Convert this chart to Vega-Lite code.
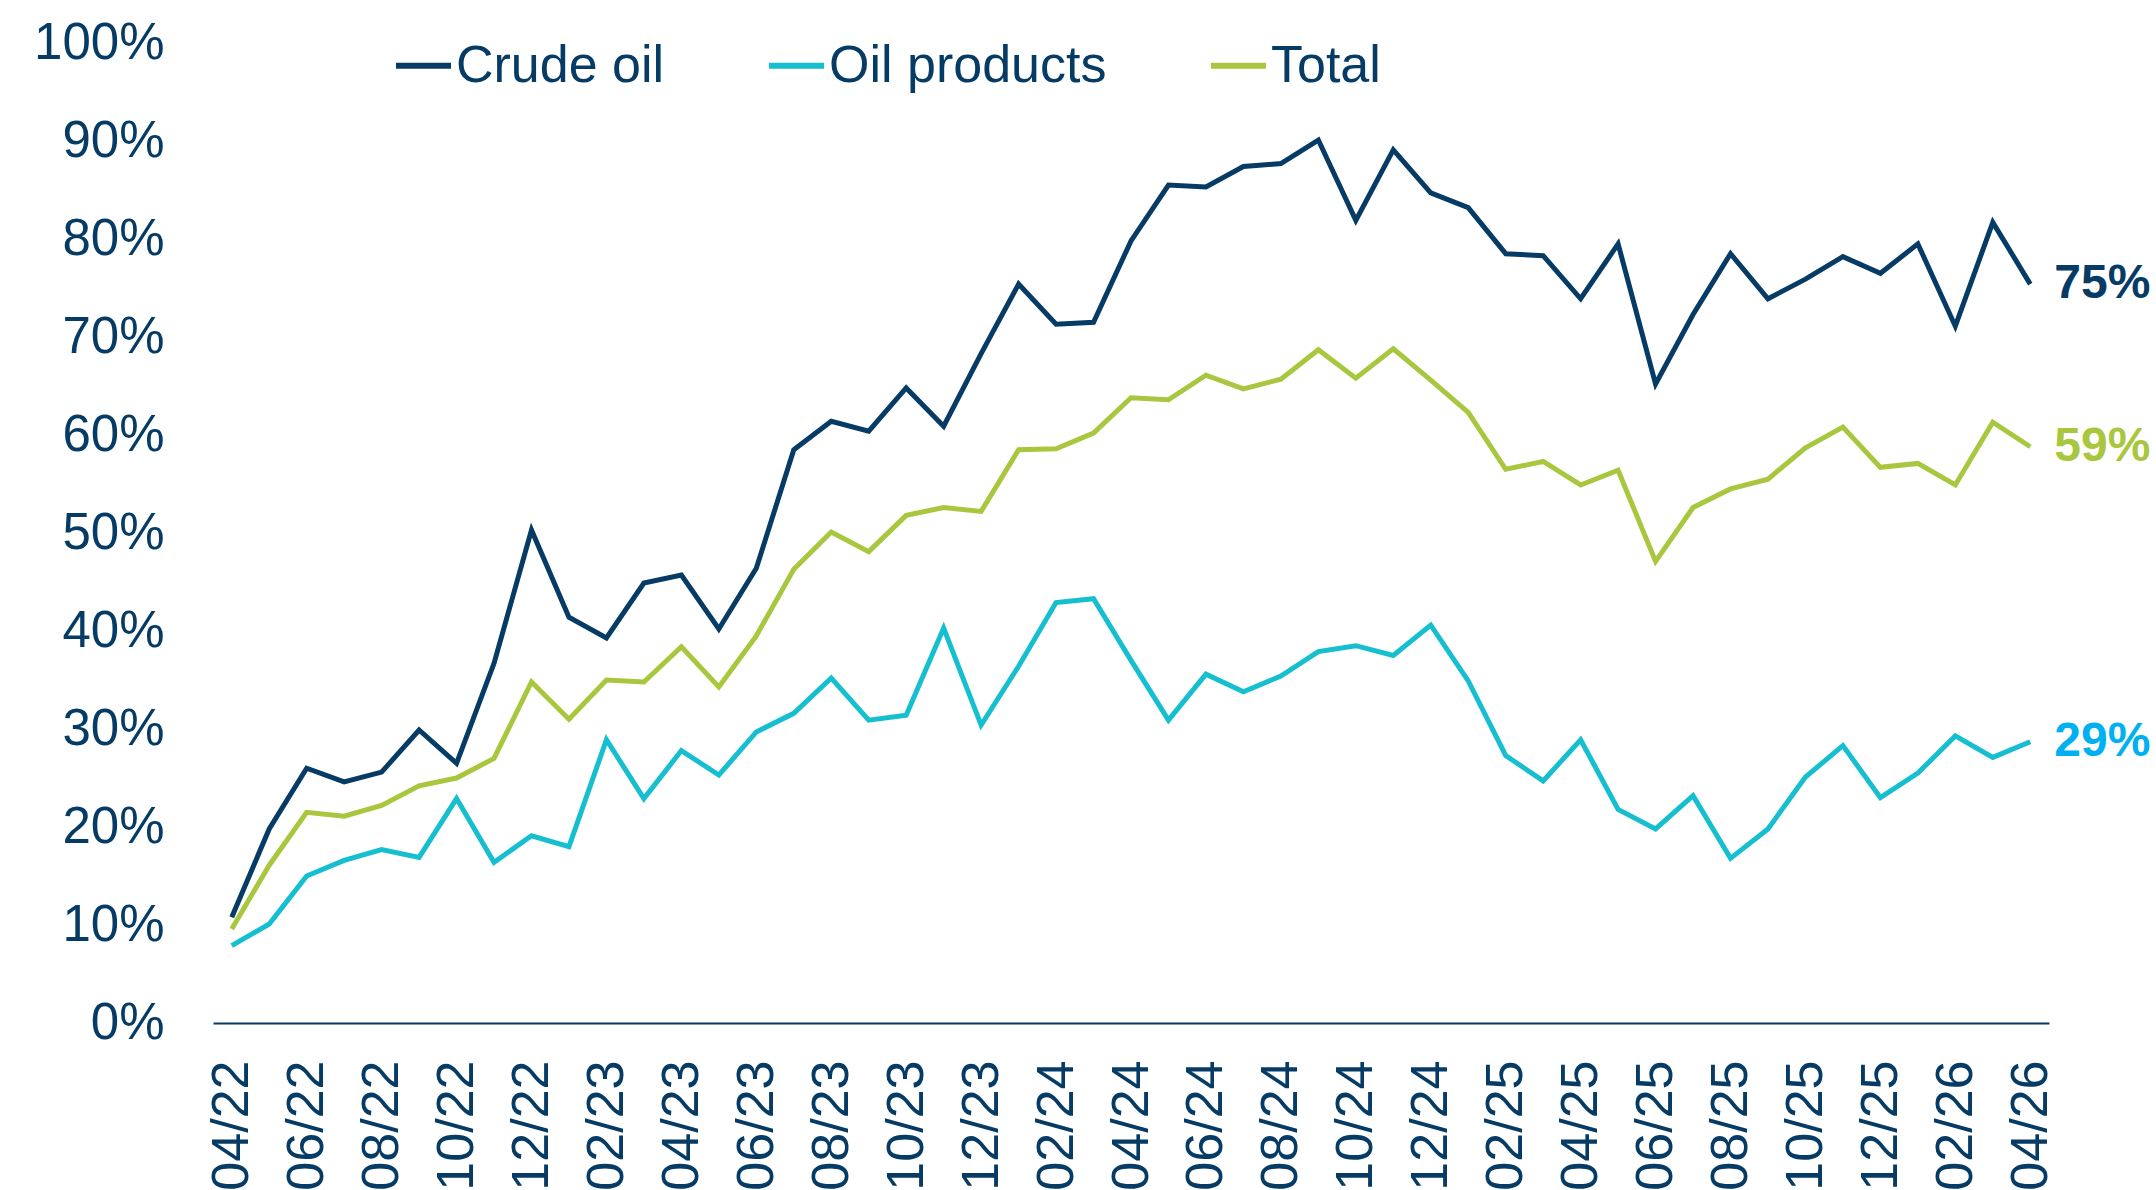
{
  "$schema": "https://vega.github.io/schema/vega-lite/v6.json",
  "width": 1836,
  "height": 980,
  "autosize": {"type": "none"},
  "padding": {"left": 213, "top": 43, "right": 107, "bottom": 167},
  "background": "white",
  "config": {"view": {"stroke": null}, "font": "Liberation Sans"},
  "data": {"values": [
    {"month":"04/22","series":"Crude oil","value":0.108},{"month":"04/22","series":"Oil products","value":0.079},{"month":"04/22","series":"Total","value":0.096},
    {"month":"05/22","series":"Crude oil","value":0.198},{"month":"05/22","series":"Oil products","value":0.101},{"month":"05/22","series":"Total","value":0.161},
    {"month":"06/22","series":"Crude oil","value":0.260},{"month":"06/22","series":"Oil products","value":0.150},{"month":"06/22","series":"Total","value":0.215},
    {"month":"07/22","series":"Crude oil","value":0.246},{"month":"07/22","series":"Oil products","value":0.166},{"month":"07/22","series":"Total","value":0.211},
    {"month":"08/22","series":"Crude oil","value":0.256},{"month":"08/22","series":"Oil products","value":0.177},{"month":"08/22","series":"Total","value":0.222},
    {"month":"09/22","series":"Crude oil","value":0.299},{"month":"09/22","series":"Oil products","value":0.169},{"month":"09/22","series":"Total","value":0.242},
    {"month":"10/22","series":"Crude oil","value":0.265},{"month":"10/22","series":"Oil products","value":0.229},{"month":"10/22","series":"Total","value":0.250},
    {"month":"11/22","series":"Crude oil","value":0.367},{"month":"11/22","series":"Oil products","value":0.164},{"month":"11/22","series":"Total","value":0.270},
    {"month":"12/22","series":"Crude oil","value":0.503},{"month":"12/22","series":"Oil products","value":0.191},{"month":"12/22","series":"Total","value":0.348},
    {"month":"01/23","series":"Crude oil","value":0.414},{"month":"01/23","series":"Oil products","value":0.180},{"month":"01/23","series":"Total","value":0.310},
    {"month":"02/23","series":"Crude oil","value":0.393},{"month":"02/23","series":"Oil products","value":0.289},{"month":"02/23","series":"Total","value":0.350},
    {"month":"03/23","series":"Crude oil","value":0.449},{"month":"03/23","series":"Oil products","value":0.229},{"month":"03/23","series":"Total","value":0.348},
    {"month":"04/23","series":"Crude oil","value":0.457},{"month":"04/23","series":"Oil products","value":0.278},{"month":"04/23","series":"Total","value":0.384},
    {"month":"05/23","series":"Crude oil","value":0.402},{"month":"05/23","series":"Oil products","value":0.253},{"month":"05/23","series":"Total","value":0.343},
    {"month":"06/23","series":"Crude oil","value":0.464},{"month":"06/23","series":"Oil products","value":0.297},{"month":"06/23","series":"Total","value":0.395},
    {"month":"07/23","series":"Crude oil","value":0.585},{"month":"07/23","series":"Oil products","value":0.316},{"month":"07/23","series":"Total","value":0.463},
    {"month":"08/23","series":"Crude oil","value":0.614},{"month":"08/23","series":"Oil products","value":0.352},{"month":"08/23","series":"Total","value":0.501},
    {"month":"09/23","series":"Crude oil","value":0.604},{"month":"09/23","series":"Oil products","value":0.309},{"month":"09/23","series":"Total","value":0.481},
    {"month":"10/23","series":"Crude oil","value":0.648},{"month":"10/23","series":"Oil products","value":0.314},{"month":"10/23","series":"Total","value":0.518},
    {"month":"11/23","series":"Crude oil","value":0.609},{"month":"11/23","series":"Oil products","value":0.403},{"month":"11/23","series":"Total","value":0.526},
    {"month":"12/23","series":"Crude oil","value":0.683},{"month":"12/23","series":"Oil products","value":0.304},{"month":"12/23","series":"Total","value":0.522},
    {"month":"01/24","series":"Crude oil","value":0.754},{"month":"01/24","series":"Oil products","value":0.364},{"month":"01/24","series":"Total","value":0.585},
    {"month":"02/24","series":"Crude oil","value":0.713},{"month":"02/24","series":"Oil products","value":0.429},{"month":"02/24","series":"Total","value":0.586},
    {"month":"03/24","series":"Crude oil","value":0.715},{"month":"03/24","series":"Oil products","value":0.433},{"month":"03/24","series":"Total","value":0.602},
    {"month":"04/24","series":"Crude oil","value":0.798},{"month":"04/24","series":"Oil products","value":0.370},{"month":"04/24","series":"Total","value":0.638},
    {"month":"05/24","series":"Crude oil","value":0.855},{"month":"05/24","series":"Oil products","value":0.309},{"month":"05/24","series":"Total","value":0.636},
    {"month":"06/24","series":"Crude oil","value":0.853},{"month":"06/24","series":"Oil products","value":0.356},{"month":"06/24","series":"Total","value":0.661},
    {"month":"07/24","series":"Crude oil","value":0.874},{"month":"07/24","series":"Oil products","value":0.338},{"month":"07/24","series":"Total","value":0.647},
    {"month":"08/24","series":"Crude oil","value":0.877},{"month":"08/24","series":"Oil products","value":0.354},{"month":"08/24","series":"Total","value":0.657},
    {"month":"09/24","series":"Crude oil","value":0.901},{"month":"09/24","series":"Oil products","value":0.379},{"month":"09/24","series":"Total","value":0.687},
    {"month":"10/24","series":"Crude oil","value":0.819},{"month":"10/24","series":"Oil products","value":0.385},{"month":"10/24","series":"Total","value":0.658},
    {"month":"11/24","series":"Crude oil","value":0.891},{"month":"11/24","series":"Oil products","value":0.375},{"month":"11/24","series":"Total","value":0.688},
    {"month":"12/24","series":"Crude oil","value":0.847},{"month":"12/24","series":"Oil products","value":0.406},{"month":"12/24","series":"Total","value":0.656},
    {"month":"01/25","series":"Crude oil","value":0.832},{"month":"01/25","series":"Oil products","value":0.349},{"month":"01/25","series":"Total","value":0.623},
    {"month":"02/25","series":"Crude oil","value":0.785},{"month":"02/25","series":"Oil products","value":0.273},{"month":"02/25","series":"Total","value":0.565},
    {"month":"03/25","series":"Crude oil","value":0.783},{"month":"03/25","series":"Oil products","value":0.247},{"month":"03/25","series":"Total","value":0.573},
    {"month":"04/25","series":"Crude oil","value":0.739},{"month":"04/25","series":"Oil products","value":0.289},{"month":"04/25","series":"Total","value":0.549},
    {"month":"05/25","series":"Crude oil","value":0.795},{"month":"05/25","series":"Oil products","value":0.218},{"month":"05/25","series":"Total","value":0.564},
    {"month":"06/25","series":"Crude oil","value":0.652},{"month":"06/25","series":"Oil products","value":0.198},{"month":"06/25","series":"Total","value":0.471},
    {"month":"07/25","series":"Crude oil","value":0.723},{"month":"07/25","series":"Oil products","value":0.232},{"month":"07/25","series":"Total","value":0.526},
    {"month":"08/25","series":"Crude oil","value":0.785},{"month":"08/25","series":"Oil products","value":0.168},{"month":"08/25","series":"Total","value":0.545},
    {"month":"09/25","series":"Crude oil","value":0.739},{"month":"09/25","series":"Oil products","value":0.198},{"month":"09/25","series":"Total","value":0.555},
    {"month":"10/25","series":"Crude oil","value":0.759},{"month":"10/25","series":"Oil products","value":0.251},{"month":"10/25","series":"Total","value":0.587},
    {"month":"11/25","series":"Crude oil","value":0.782},{"month":"11/25","series":"Oil products","value":0.283},{"month":"11/25","series":"Total","value":0.608},
    {"month":"12/25","series":"Crude oil","value":0.765},{"month":"12/25","series":"Oil products","value":0.230},{"month":"12/25","series":"Total","value":0.567},
    {"month":"01/26","series":"Crude oil","value":0.795},{"month":"01/26","series":"Oil products","value":0.255},{"month":"01/26","series":"Total","value":0.571},
    {"month":"02/26","series":"Crude oil","value":0.711},{"month":"02/26","series":"Oil products","value":0.293},{"month":"02/26","series":"Total","value":0.549},
    {"month":"03/26","series":"Crude oil","value":0.817},{"month":"03/26","series":"Oil products","value":0.271},{"month":"03/26","series":"Total","value":0.613},
    {"month":"04/26","series":"Crude oil","value":0.754},{"month":"04/26","series":"Oil products","value":0.287},{"month":"04/26","series":"Total","value":0.588}
  ]},
  "layer": [
    {
      "mark": {"type": "line", "strokeWidth": 5},
      "encoding": {
        "x": {
          "field": "month", "type": "ordinal", "sort": null,
          "scale": {"type": "point", "padding": 0.5},
          "axis": {
            "values": ["04/22","06/22","08/22","10/22","12/22","02/23","04/23","06/23","08/23","10/23","12/23","02/24","04/24","06/24","08/24","10/24","12/24","02/25","04/25","06/25","08/25","10/25","12/25","02/26","04/26"],
            "title": null, "labelAngle": -90, "labelAlign": "right", "labelBaseline": "middle",
            "labelFontSize": 52, "labelColor": "#053b64", "labelFont": "Liberation Sans",
            "ticks": false, "tickSize": 0, "labelPadding": 37, "labelOverlap": false,
            "domainColor": "#053b64", "domainWidth": 2, "grid": false
          }
        },
        "y": {
          "field": "value", "type": "quantitative",
          "scale": {"domain": [0, 1], "nice": false},
          "axis": {
            "values": [0, 0.1, 0.2, 0.3, 0.4, 0.5, 0.6, 0.7, 0.8, 0.9, 1],
            "format": ".0%", "title": null, "labelFontSize": 51, "labelColor": "#053b64",
            "labelFont": "Liberation Sans", "domain": false, "ticks": false, "tickSize": 0,
            "grid": false, "labelPadding": 49
          }
        },
        "color": {
          "field": "series", "type": "nominal",
          "scale": {"domain": ["Crude oil", "Oil products", "Total"], "range": ["#053b64", "#16bfcf", "#a9c73e"]},
          "legend": {
            "orient": "none", "legendX": 180, "legendY": -8, "direction": "horizontal",
            "title": null, "symbolType": "stroke", "symbolSize": 3025, "symbolStrokeWidth": 6,
            "labelFontSize": 52, "labelColor": "#053b64", "labelFont": "Liberation Sans",
            "labelOffset": 2, "columnPadding": 92, "padding": 0, "labelLimit": 0
          }
        }
      }
    },
    {
      "transform": [{"filter": "datum.month === '04/26'"}],
      "mark": {"type": "text", "align": "left", "baseline": "middle", "dx": 24, "fontSize": 48, "fontWeight": "bold", "font": "Liberation Sans"},
      "encoding": {
        "x": {"field": "month", "type": "ordinal", "sort": null},
        "y": {"field": "value", "type": "quantitative"},
        "text": {"field": "value", "type": "quantitative", "format": ".0%"},
        "color": {
          "field": "series", "type": "nominal",
          "scale": {"domain": ["Crude oil", "Oil products", "Total"], "range": ["#053b64", "#00b0f0", "#a9c73e"]},
          "legend": null
        }
      }
    }
  ],
  "resolve": {"scale": {"color": "independent"}}
}
